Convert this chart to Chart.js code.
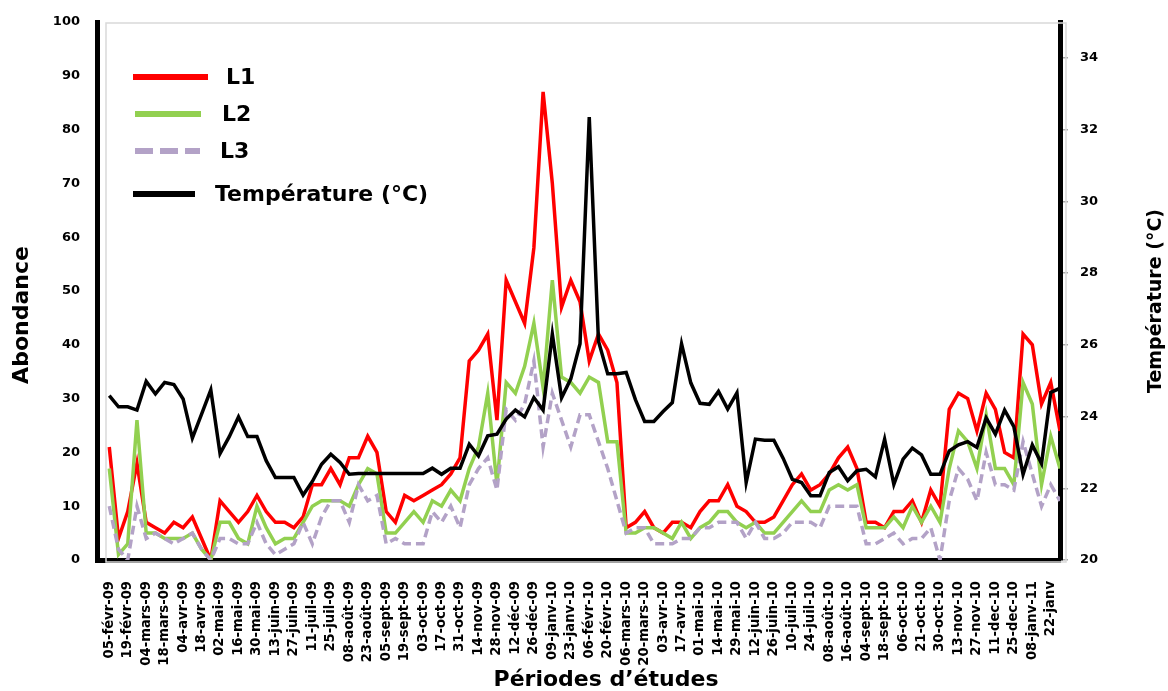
<!DOCTYPE html>
<html lang="fr">
<head>
<meta charset="utf-8">
<title>Abondance et température</title>
<script src="https://cdn.jsdelivr.net/npm/chart.js@4.4.1/dist/chart.umd.min.js"></script>
<style>
  html, body { margin: 0; padding: 0; background: #ffffff; }
  #wrap { width: 1168px; height: 691px; }
</style>
</head>
<body>
<div id="wrap"><canvas id="c" width="1168" height="691"></canvas></div>
<script>
// Tick labels (one every second sampling date)
const dateLabels = [
  '05-févr-09','19-févr-09','04-mars-09','18-mars-09','04-avr-09','18-avr-09','02-mai-09','16-mai-09',
  '30-mai-09','13-juin-09','27-juin-09','11-juil-09','25-juil-09','08-août-09','23-août-09','05-sept-09',
  '19-sept-09','03-oct-09','17-oct-09','31-oct-09','14-nov-09','28-nov-09','12-déc-09','26-déc-09',
  '09-janv-10','23-janv-10','06-févr-10','20-févr-10','06-mars-10','20-mars-10','03-avr-10','17-avr-10',
  '01-mai-10','14-mai-10','29-mai-10','12-juin-10','26-juin-10','10-juil-10','24-juil-10','08-août-10',
  '16-août-10','04-sept-10','18-sept-10','06-oct-10','21-oct-10','30-oct-10','13-nov-10','27-nov-10',
  '11-dec-10','25-dec-10','08-janv-11','22-janv'
];

// Abundance per sampling (weekly)
const L1 = [
  21, 4, 9, 18, 7, 6, 5, 7, 6, 8, 4, 0, 11, 9, 7, 9, 12, 9, 7, 7, 6, 8, 14, 14, 17, 14,
  19, 19, 23, 20, 9, 7, 12, 11, 12, 13, 14, 16, 19, 37, 39, 42, 26, 52, 48, 44, 58, 87, 70, 47, 52, 48,
  37, 42, 39, 33, 6, 7, 9, 6, 5, 7, 7, 6, 9, 11, 11, 14, 10, 9, 7, 7, 8, 11, 14, 16, 13, 14,
  16, 19, 21, 17, 7, 7, 6, 9, 9, 11, 7, 13, 10, 28, 31, 30, 24, 31, 28, 20, 19, 42, 40, 29, 33, 24
];
const L2 = [
  17, 1, 3, 26, 5, 5, 4, 4, 4, 5, 2, 0, 7, 7, 4, 3, 10, 6, 3, 4, 4, 7, 10, 11, 11, 11,
  10, 14, 17, 16, 5, 5, 7, 9, 7, 11, 10, 13, 11, 17, 21, 31, 14, 33, 31, 36, 44, 32, 52, 34, 33, 31,
  34, 33, 22, 22, 5, 5, 6, 6, 5, 4, 7, 4, 6, 7, 9, 9, 7, 6, 7, 5, 5, 7, 9, 11, 9, 9,
  13, 14, 13, 14, 6, 6, 6, 8, 6, 10, 7, 10, 7, 17, 24, 22, 17, 27, 17, 17, 14, 33, 29, 14, 23, 17
];
const L3 = [
  10, 2, 0, 10, 4, 5, 4, 3, 4, 5, 2, 0, 4, 4, 3, 3, 7, 3, 1, 2, 3, 7, 3, 8, 11, 11,
  7, 14, 11, 12, 3, 4, 3, 3, 3, 9, 7, 10, 6, 14, 17, 19, 13, 28, 26, 29, 37, 21, 31, 26, 21, 27,
  27, 22, 17, 11, 5, 6, 6, 3, 3, 3, 4, 4, 6, 6, 7, 7, 7, 4, 7, 4, 4, 5, 7, 7, 7, 6,
  10, 10, 10, 10, 3, 3, 4, 5, 3, 4, 4, 6, 0, 11, 17, 15, 11, 20, 14, 14, 13, 22, 16, 10, 14, 11
];
// Water temperature (°C)
const temperature = [
  24.58, 24.27, 24.27, 24.18, 24.98, 24.63, 24.95, 24.89, 24.49, 23.40, 24.07, 24.74, 22.97,
  23.44, 23.99, 23.44, 23.44, 22.77, 22.30, 22.30, 22.30, 21.81, 22.19, 22.67, 22.95, 22.72,
  22.39, 22.41, 22.41, 22.41, 22.41, 22.41, 22.41, 22.41, 22.41, 22.56, 22.39, 22.56, 22.56,
  23.23, 22.90, 23.46, 23.51, 23.93, 24.18, 23.99, 24.53, 24.18, 26.30, 24.52, 25.05, 26.03,
  32.35, 26.10, 25.19, 25.19, 25.23, 24.47, 23.86, 23.86, 24.14, 24.39, 26.03, 24.94, 24.37,
  24.34, 24.70, 24.21, 24.66, 22.16, 23.37, 23.34, 23.34, 22.84, 22.25, 22.16, 21.79, 21.79,
  22.44, 22.60, 22.21, 22.49, 22.53, 22.32, 23.37, 22.11, 22.81, 23.12, 22.93, 22.39, 22.39,
  23.04, 23.21, 23.30, 23.14, 23.96, 23.51, 24.18, 23.72, 22.39, 23.21, 22.69, 24.67, 24.79
];

const seriesNames = ['L1', 'L2', 'L3', 'Température (°C)'];

const toPoints = arr => arr.map((v, i) => ({ x: i, y: v }));
const FONT = 'DejaVu Sans';
Chart.defaults.font.family = FONT;
Chart.defaults.color = '#000000';

// Light grey plot-area frame behind the series
const framePlugin = {
  id: 'frame',
  beforeDatasetsDraw(chart) {
    const { ctx, chartArea: a } = chart;
    ctx.save();
    ctx.strokeStyle = '#d9d9d9';
    ctx.lineWidth = 1.5;
    ctx.strokeRect(a.left + 9, a.top + 1, a.right - a.left - 3, a.bottom - a.top + 1);
    ctx.restore();
  }
};

// Legend drawn inside the plot, upper-left, from the datasets' own styles
const insideLegend = {
  id: 'insideLegend',
  afterDraw(chart) {
    const { ctx } = chart;
    const rows = [
      { ds: 0, y: 77,  x0: 133, x1: 208, tx: 226 },
      { ds: 1, y: 114, x0: 135, x1: 201, tx: 222 },
      { ds: 2, y: 151, x0: 135, x1: 200, tx: 220 },
      { ds: 3, y: 194, x0: 133, x1: 195, tx: 215 }
    ];
    ctx.save();
    rows.forEach(r => {
      const ds = chart.data.datasets[r.ds];
      ctx.beginPath();
      ctx.strokeStyle = ds.borderColor;
      ctx.lineWidth = 6;
      ctx.setLineDash(ds.borderDash ? [18, 7] : []);
      ctx.moveTo(r.x0, r.y);
      ctx.lineTo(r.x1, r.y);
      ctx.stroke();
      ctx.setLineDash([]);
      ctx.fillStyle = '#000';
      ctx.font = 'bold 22px ' + FONT;
      ctx.textBaseline = 'middle';
      ctx.textAlign = 'left';
      ctx.fillText(ds.label, r.tx, r.y + 1);
    });
    ctx.restore();
  }
};

// Axis titles
const axisTitles = {
  id: 'axisTitles',
  afterDraw(chart) {
    const { ctx } = chart;
    ctx.save();
    ctx.fillStyle = '#000';
    ctx.textAlign = 'center';
    ctx.textBaseline = 'middle';
    ctx.font = 'bold 22px ' + FONT;
    ctx.fillText('Périodes d’études', 606, 680);
    ctx.translate(22, 315);
    ctx.rotate(-Math.PI / 2);
    ctx.fillText('Abondance', 0, 0);
    ctx.restore();
    ctx.save();
    ctx.fillStyle = '#000';
    ctx.textAlign = 'center';
    ctx.textBaseline = 'middle';
    ctx.font = 'bold 19px ' + FONT;
    ctx.translate(1156, 301);
    ctx.rotate(-Math.PI / 2);
    ctx.fillText('Température (°C)', 0, 0);
    ctx.restore();
  }
};

new Chart(document.getElementById('c'), {
  type: 'line',
  data: {
    datasets: [
      { label: seriesNames[0], data: toPoints(L1), yAxisID: 'y', borderColor: '#ff0000',
        borderWidth: 3.5, pointRadius: 0, tension: 0, order: 3 },
      { label: seriesNames[1], data: toPoints(L2), yAxisID: 'y', borderColor: '#92d050',
        borderWidth: 3.5, pointRadius: 0, tension: 0, order: 2 },
      { label: seriesNames[2], data: toPoints(L3), yAxisID: 'y', borderColor: '#b3a2c7',
        borderWidth: 3.5, borderDash: [9, 5], pointRadius: 0, tension: 0, order: 1 },
      { label: seriesNames[3], data: toPoints(temperature), yAxisID: 'y1', borderColor: '#000000',
        borderWidth: 3.5, pointRadius: 0, tension: 0, order: 0 }
    ]
  },
  options: {
    responsive: false,
    animation: false,
    devicePixelRatio: 1,
    layout: { padding: { top: 22, left: 0, right: 0, bottom: 0 } },
    plugins: { legend: { display: false }, tooltip: { enabled: false } },
    scales: {
      x: {
        type: 'linear',
        min: -1.33,
        max: 103,
        afterBuildTicks: s => { s.ticks = dateLabels.map((_, k) => ({ value: k * 2 })); },
        afterFit: s => { s.height = 131; },
        grid: { display: false },
        border: { display: true, color: '#000000', width: 5 },
        ticks: {
          autoSkip: false, minRotation: 90, maxRotation: 90, padding: 13,
          font: { size: 13.2, weight: 'bold' }, color: '#000',
          callback: v => dateLabels[v / 2] ?? ''
        }
      },
      y: {
        position: 'left',
        min: 0, max: 100,
        afterFit: s => { s.width = 97; },
        grid: { display: false },
        border: { display: true, color: '#000000', width: 5 },
        ticks: { stepSize: 10, padding: 9, font: { size: 13, weight: 'bold' }, color: '#000' }
      },
      y1: {
        position: 'right',
        min: 20, max: 35,
        afterFit: s => { s.width = 108; },
        grid: { drawOnChartArea: false, color: '#a6a6a6', lineWidth: 1.5, tickLength: 8 },
        border: { display: true, color: '#000000', width: 5 },
        ticks: { stepSize: 2, includeBounds: false, padding: 12,
                 font: { size: 13, weight: 'bold' }, color: '#000' }
      }
    }
  },
  plugins: [framePlugin, insideLegend, axisTitles]
});
</script>
</body>
</html>
